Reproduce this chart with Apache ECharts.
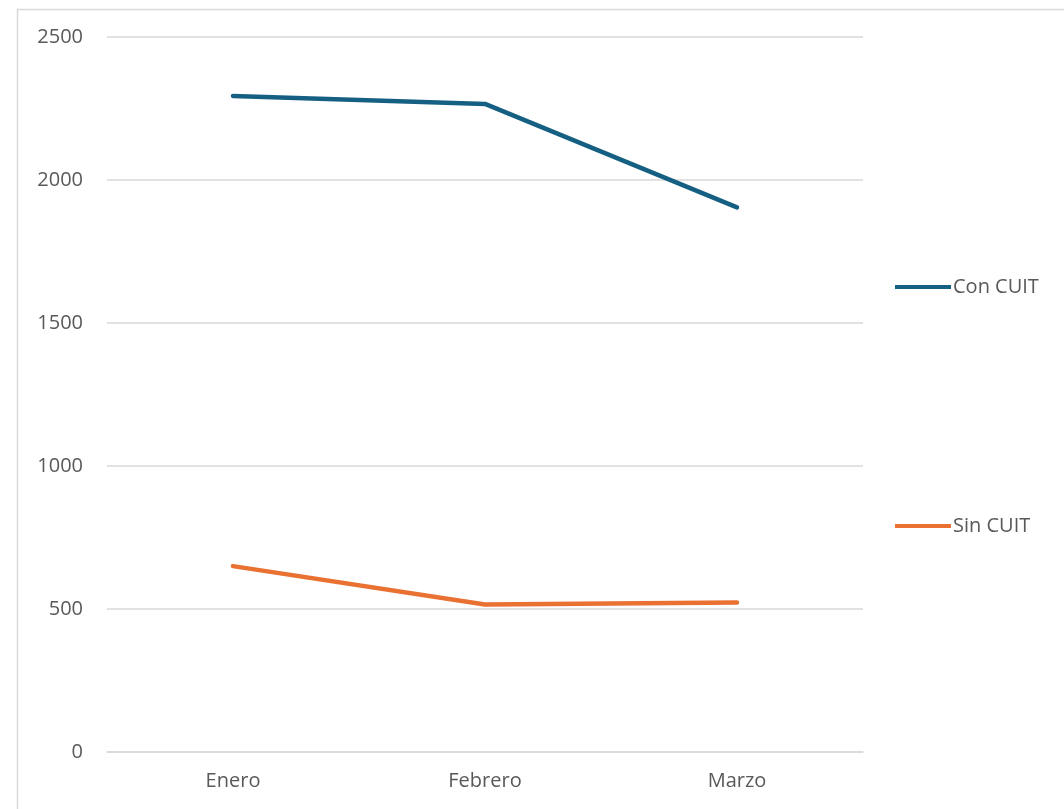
<!DOCTYPE html>
<html>
<head>
<meta charset="utf-8">
<script src="https://cdn.jsdelivr.net/npm/echarts@6/dist/echarts.min.js"></script>
<style>
  html, body { margin: 0; padding: 0; background: #ffffff; }
  #chart { width: 1064px; height: 809px; }
</style>
</head>
<body>
<div id="chart"></div>
<script>
const categories = ['Enero', 'Febrero', 'Marzo'];
const conCuit = [2294, 2266, 1904];
const sinCuit = [650, 516, 523];
const seriesNames = ['Con CUIT', 'Sin CUIT'];
const yMin = 0, yMax = 2500, yStep = 500;

const chart = echarts.init(document.getElementById('chart'), null, { renderer: 'canvas' });
const labelFont = 'Open Sans';
chart.setOption({
  animation: false,
  backgroundColor: '#ffffff',
  graphic: [{
    type: 'rect',
    left: 15, top: 7,
    shape: { width: 1200, height: 900 },
    style: { fill: 'none', stroke: '#d9d9d9', lineWidth: 1.5 },
    silent: true
  }],
  grid: { left: 107, right: 201, top: 37, bottom: 57, containLabel: false },
  legend: [
    {
      data: [seriesNames[0]], left: 890, top: 272, orient: 'vertical',
      icon: 'rect', itemWidth: 56, itemHeight: 4, itemGap: 5,
      textStyle: { color: '#595959', fontSize: 20, fontFamily: labelFont, padding: [0, 0, 0, -3] }
    },
    {
      data: [seriesNames[1]], left: 890, top: 511, orient: 'vertical',
      icon: 'rect', itemWidth: 56, itemHeight: 4, itemGap: 5,
      textStyle: { color: '#595959', fontSize: 20, fontFamily: labelFont, padding: [0, 0, 0, -3] }
    }
  ],
  xAxis: {
    type: 'category',
    data: categories,
    boundaryGap: true,
    axisLine: { show: true, lineStyle: { color: '#d9d9d9', width: 1.5 } },
    axisTick: { show: false },
    axisLabel: { color: '#595959', fontSize: 20, fontFamily: labelFont, margin: 19 }
  },
  yAxis: {
    type: 'value',
    min: yMin, max: yMax, interval: yStep,
    axisLine: { show: false },
    axisTick: { show: false },
    splitLine: { lineStyle: { color: '#d9d9d9', width: 1.5 } },
    axisLabel: { color: '#595959', fontSize: 20, fontFamily: labelFont, margin: 24, formatter: v => String(v) }
  },
  series: [
    {
      name: seriesNames[0], type: 'line', data: conCuit,
      symbol: 'none', lineStyle: { width: 4.5, color: '#156082', cap: 'round', join: 'round' },
      itemStyle: { color: '#156082' }
    },
    {
      name: seriesNames[1], type: 'line', data: sinCuit,
      symbol: 'none', lineStyle: { width: 4.5, color: '#E97132', cap: 'round', join: 'round' },
      itemStyle: { color: '#E97132' }
    }
  ]
});
</script>
</body>
</html>
